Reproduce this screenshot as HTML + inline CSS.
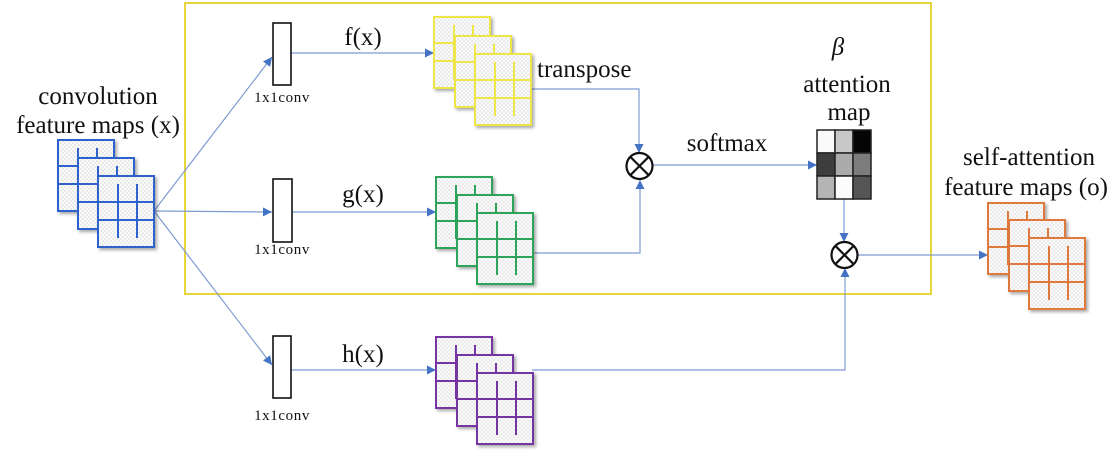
<!DOCTYPE html>
<html><head><meta charset="utf-8"><style>
html,body{margin:0;padding:0;background:#fff;}
svg{display:block;}
text{font-family:"Liberation Serif",serif;fill:#111;}
</style></head><body>
<svg width="1116" height="452" viewBox="0 0 1116 452" xmlns="http://www.w3.org/2000/svg">
<defs>
<pattern id="dots" width="4" height="4" patternUnits="userSpaceOnUse">
<rect width="4" height="4" fill="#fbfbfb"/>
<circle cx="1" cy="1" r="0.55" fill="#a8a8a8"/>
<circle cx="3" cy="3" r="0.55" fill="#a8a8a8"/>
</pattern>
<filter id="sh" x="-20%" y="-20%" width="150%" height="150%">
<feDropShadow dx="2" dy="2" stdDeviation="1.5" flood-color="#000" flood-opacity="0.35"/>
</filter>
<symbol id="fm" overflow="visible">
<rect x="0" y="0" width="56" height="71" fill="url(#dots)" stroke="currentColor" stroke-width="2" filter="url(#sh)"/>
<line x1="0" y1="26" x2="56" y2="26" stroke="currentColor" stroke-width="2"/>
<line x1="0" y1="44" x2="56" y2="44" stroke="currentColor" stroke-width="2"/>
<line x1="20" y1="8" x2="20" y2="62" stroke="currentColor" stroke-width="2"/>
<line x1="39" y1="8" x2="39" y2="62" stroke="currentColor" stroke-width="2"/>
</symbol>
<marker id="ar" viewBox="0 0 10 10" refX="10" refY="5" markerWidth="9" markerHeight="9" markerUnits="userSpaceOnUse" orient="auto">
<path d="M0,0 L10,5 L0,10 z" fill="#4472c4"/>
</marker>
</defs>

<!-- yellow frame -->
<rect x="185" y="3" width="746" height="291" fill="none" stroke="#e8d53c" stroke-width="2"/>

<!-- connectors -->
<g stroke="#7f9bd3" stroke-width="1.2" fill="none">
<line x1="154" y1="211" x2="272" y2="57" marker-end="url(#ar)"/>
<line x1="154" y1="211" x2="272" y2="212" marker-end="url(#ar)"/>
<line x1="154" y1="211" x2="272" y2="365" marker-end="url(#ar)"/>
<line x1="291" y1="53" x2="434" y2="53" marker-end="url(#ar)"/>
<line x1="292" y1="212" x2="436" y2="212" marker-end="url(#ar)"/>
<line x1="291" y1="370" x2="436" y2="370" marker-end="url(#ar)"/>
<polyline points="531,89 639,89 639,153" marker-end="url(#ar)"/>
<polyline points="533,253 640,253 640,180" marker-end="url(#ar)"/>
<line x1="653" y1="165" x2="817" y2="165" marker-end="url(#ar)"/>
<line x1="844" y1="199" x2="844" y2="242" marker-end="url(#ar)"/>
<polyline points="532,370 845,370 845,268" marker-end="url(#ar)"/>
<line x1="858" y1="255" x2="988" y2="255" marker-end="url(#ar)"/>
</g>

<!-- feature maps -->
<g style="color:#2f62cc">
<use href="#fm" x="58" y="140"/><use href="#fm" x="78" y="158"/><use href="#fm" x="98" y="176"/>
</g>
<g style="color:#eee64a">
<use href="#fm" x="434" y="17"/><use href="#fm" x="455" y="36"/><use href="#fm" x="475" y="54"/>
</g>
<g style="color:#2ea45a">
<use href="#fm" x="436" y="177"/><use href="#fm" x="457" y="195"/><use href="#fm" x="477" y="213"/>
</g>
<g style="color:#7434a4">
<use href="#fm" x="436" y="337"/><use href="#fm" x="457" y="355"/><use href="#fm" x="477" y="373"/>
</g>
<g style="color:#e0793e">
<use href="#fm" x="988" y="203"/><use href="#fm" x="1009" y="220"/><use href="#fm" x="1029" y="238"/>
</g>

<!-- conv boxes -->
<g fill="#fff" stroke="#111" stroke-width="1.6">
<rect x="273" y="23" width="18" height="62"/>
<rect x="273" y="179" width="19" height="63"/>
<rect x="273" y="336" width="18" height="62"/>
</g>

<!-- circles -->
<g stroke="#111" stroke-width="2.2" fill="#fff">
<circle cx="639.5" cy="166" r="13"/>
<line x1="630.3" y1="156.8" x2="648.7" y2="175.2"/>
<line x1="648.7" y1="156.8" x2="630.3" y2="175.2"/>
<circle cx="844.5" cy="255" r="13"/>
<line x1="835.3" y1="245.8" x2="853.7" y2="264.2"/>
<line x1="853.7" y1="245.8" x2="835.3" y2="264.2"/>
</g>

<!-- attention map -->
<g stroke="#222" stroke-width="1.5">
<rect x="817" y="130" width="18" height="23" fill="#fafafa"/>
<rect x="835" y="130" width="18" height="23" fill="#c8c8c8"/>
<rect x="853" y="130" width="18" height="23" fill="#050505"/>
<rect x="817" y="153" width="18" height="23" fill="#3e3e3e"/>
<rect x="835" y="153" width="18" height="23" fill="#ababab"/>
<rect x="853" y="153" width="18" height="23" fill="#7c7c7c"/>
<rect x="817" y="176" width="18" height="23" fill="#b4b4b4"/>
<rect x="835" y="176" width="18" height="23" fill="#fcfcfc"/>
<rect x="853" y="176" width="18" height="23" fill="#555"/>
</g>

<!-- labels -->
<g font-size="25">
<text x="98" y="104" text-anchor="middle">convolution</text>
<text x="98" y="133" text-anchor="middle">feature maps (x)</text>
<text x="363" y="45" text-anchor="middle">f(x)</text>
<text x="363" y="202" text-anchor="middle">g(x)</text>
<text x="363" y="362" text-anchor="middle">h(x)</text>
<text x="537" y="77">transpose</text>
<text x="727" y="151" text-anchor="middle">softmax</text>
<text x="838" y="55" text-anchor="middle" font-style="italic">β</text>
<text x="847" y="92" text-anchor="middle">attention</text>
<text x="849" y="120" text-anchor="middle">map</text>
<text x="1029" y="165" text-anchor="middle">self-attention</text>
<text x="1026" y="195" text-anchor="middle">feature maps (o)</text>
</g>
<g font-size="15" letter-spacing="0.6">
<text x="282" y="102" text-anchor="middle">1x1conv</text>
<text x="282" y="254" text-anchor="middle">1x1conv</text>
<text x="282" y="420" text-anchor="middle">1x1conv</text>
</g>
</svg>
</body></html>
